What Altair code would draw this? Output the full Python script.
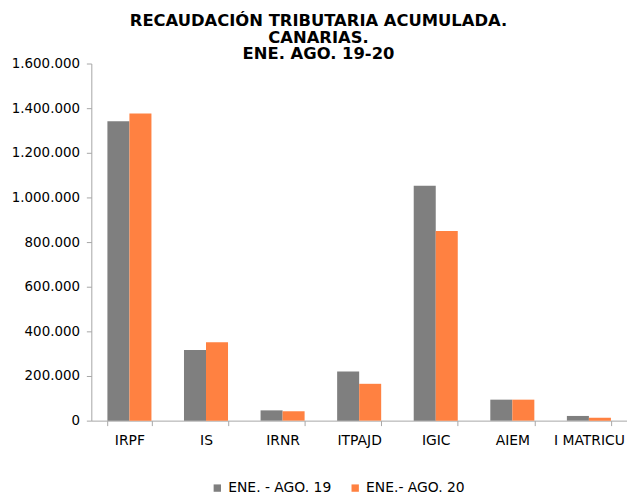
import altair as alt
import pandas as pd

categories = ["IRPF", "IS", "IRNR", "ITPAJD", "IGIC", "AIEM", "I MATRICU"]
series_names = ["ENE. - AGO. 19", "ENE.- AGO. 20"]
values_19 = [1341000, 316000, 46000, 220000, 1052000, 94000, 21000]
values_20 = [1376000, 351000, 42000, 165000, 850000, 94000, 13000]
y_ticks = [0, 200000, 400000, 600000, 800000, 1000000, 1200000, 1400000, 1600000]
colors = ["#7F7F7F", "#FF8141"]
title_lines = ["RECAUDACIÓN TRIBUTARIA ACUMULADA.", "CANARIAS.", "ENE. AGO. 19-20"]

rows = []
for c, v in zip(categories, values_19):
    rows.append({"cat": c, "serie": series_names[0], "valor": v})
for c, v in zip(categories, values_20):
    rows.append({"cat": c, "serie": series_names[1], "valor": v})
df = pd.DataFrame(rows)

font = "DejaVu Sans"
axis_col = "#A6A6A6"

chart = alt.Chart(df).mark_bar().encode(
    x=alt.X("cat:N", sort=categories,
            scale=alt.Scale(paddingInner=0.425, paddingOuter=0.21),
            axis=alt.Axis(title=None, labelAngle=0, tickBand="extent",
                          labelFont=font, labelFontSize=14, labelColor="#000000",
                          labelPadding=8, tickSize=5, tickColor=axis_col,
                          domainColor=axis_col, grid=False)),
    xOffset=alt.XOffset("serie:N", sort=series_names),
    y=alt.Y("valor:Q",
            scale=alt.Scale(domain=[0, 1600000], nice=False),
            axis=alt.Axis(title=None, values=y_ticks, grid=False,
                          labelExpr="replace(format(datum.value, ','), regexp(',', 'g'), '.')",
                          labelFont=font, labelFontSize=13.5, labelColor="#000000",
                          labelPadding=7, tickSize=5, tickColor=axis_col,
                          domainColor=axis_col)),
    color=alt.Color("serie:N", sort=series_names,
                    scale=alt.Scale(domain=series_names, range=colors),
                    legend=alt.Legend(title=None, orient="none", direction="horizontal",
                                      legendX=120, legendY=421, padding=0,
                                      symbolType="square", symbolSize=55,
                                      symbolStrokeWidth=0, labelOffset=4,
                                      columnPadding=17,
                                      labelFont=font, labelFontSize=14,
                                      labelColor="#000000")),
).properties(
    width=540,
    height=360,
    autosize=alt.AutoSizeParams(type="none"),
    padding={"left": 84, "top": 54, "right": 0, "bottom": 74},
    title=alt.Title(title_lines, font=font, fontSize=16.5, fontWeight="bold",
                    color="#000000", anchor="middle", dx=-41, dy=7,
                    lineHeight=16.5, offset=1),
).configure_view(stroke=None)

chart.save("out.html", embed_options={"renderer": "svg", "actions": False})
